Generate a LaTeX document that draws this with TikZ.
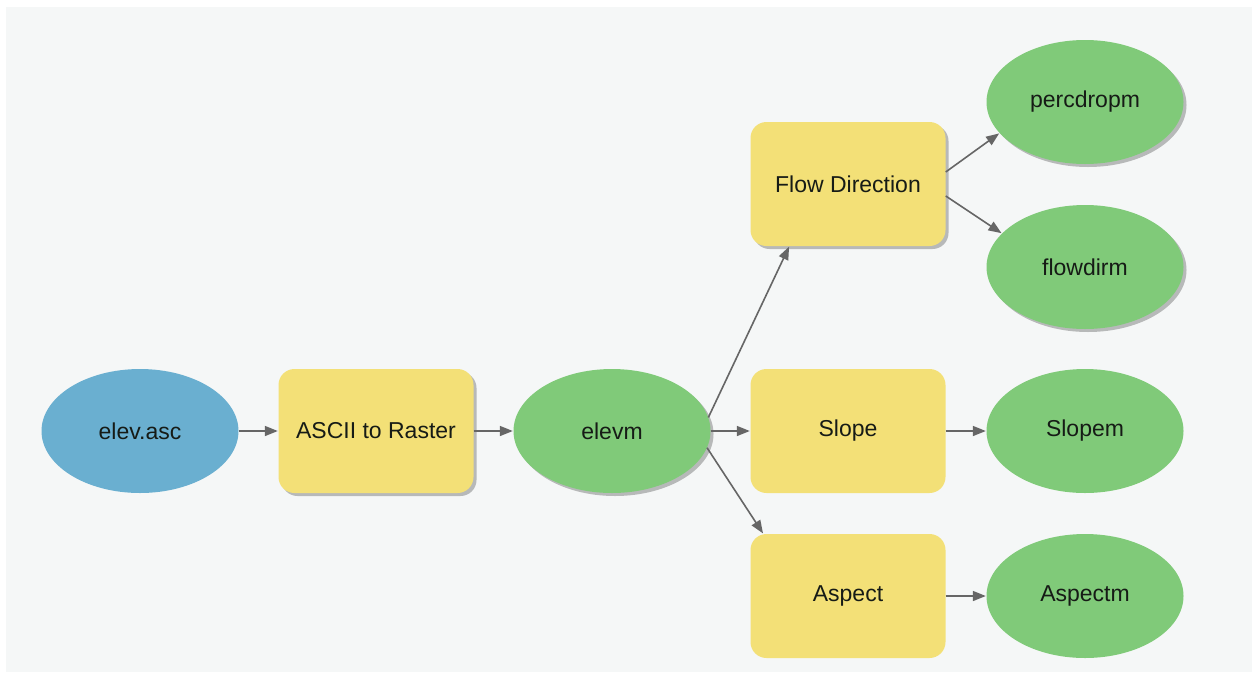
\documentclass[tikz,border=0pt]{standalone}
\usepackage{fontspec}
\setmainfont{Liberation Sans}
\usetikzlibrary{arrows.meta,shapes.geometric,shadows}

\definecolor{canvasbg}{HTML}{F5F7F7}
\definecolor{toolfill}{HTML}{F3E077}
\definecolor{datafill}{HTML}{80CA79}
\definecolor{inputfill}{HTML}{6AAFD0}
\definecolor{linkgray}{HTML}{666666}
\definecolor{labeltext}{HTML}{161B16}

\tikzset{
  lbl/.style={font=\fontsize{23}{27}\selectfont, text=labeltext},
  dataset/.style={ellipse, lbl, draw=none, fill=datafill, inner sep=0pt,
                  minimum width=197pt, minimum height=124pt},
  inputset/.style={dataset, fill=inputfill},
  toolbox/.style={rectangle, rounded corners=16pt, lbl, draw=none, fill=toolfill,
                  inner sep=0pt, minimum width=195pt, minimum height=124pt},
  softshadow/.style={drop shadow={shadow xshift=3pt, shadow yshift=-3pt,
                     fill=black, opacity=0.25}},
  link/.style={draw=linkgray, line width=1.6pt,
               -{Triangle[length=13pt,width=10pt]}, shorten >=0.5pt}
}

\begin{document}
\begin{tikzpicture}[x=1pt, y=-1pt]
  \useasboundingbox (0,0) rectangle (1252,675);
  \fill[canvasbg] (6,7) rectangle (1252,672);

  % input raster and conversion tool
  \node[inputset] (asc) at (140,431) {elev.asc};
  \node[toolbox, softshadow] (ascii) at (376,431) {ASCII to Raster};
  \node[dataset, softshadow] (elevm) at (612,431) {elevm};

  % surface tools
  \node[toolbox, softshadow] (flow) at (848,184) {Flow Direction};
  \node[toolbox] (slope) at (848,431) {Slope};
  \node[toolbox] (aspect) at (848,596) {Aspect};

  % outputs
  \node[dataset, softshadow] (percdropm) at (1085,102) {percdropm};
  \node[dataset, softshadow] (flowdirm) at (1085,267) {flowdirm};
  \node[dataset] (slopem) at (1085,431) {Slopem};
  \node[dataset] (aspectm) at (1085,596) {Aspectm};

  % connectors
  \draw[link] (asc) -- (ascii);
  \draw[link] (ascii) -- (elevm);
  \draw[link] (elevm.8) -- ([xshift=39pt]flow.south west);
  \draw[link] (elevm.east) -- (slope.west);
  \draw[link] (elevm.-10) -- ([xshift=13pt]aspect.north west);
  \draw[link] ([yshift=12pt]flow.east) -- (percdropm.200);
  \draw[link] ([yshift=-12pt]flow.east) -- (flowdirm.158);
  \draw[link] (slope) -- (slopem);
  \draw[link] (aspect) -- (aspectm);
\end{tikzpicture}
\end{document}
